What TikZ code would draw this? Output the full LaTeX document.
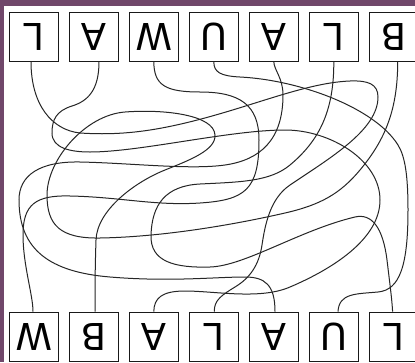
\documentclass[tikz,border=0pt]{standalone}
\usepackage{fontspec}
\setmainfont{DejaVu Sans}
\usepackage{graphicx}

\definecolor{framepurple}{RGB}{112,71,106}
\tikzset{
  letterbox/.style={draw=black!90, line width=0.9pt, minimum width=49pt, minimum height=49pt,
    inner sep=0pt, font=\fontsize{37}{37}\selectfont},
  strand/.style={line width=1pt, black!85}
}
\newcommand{\flipped}[1]{\rotatebox{180}{#1}}

\begin{document}
\begin{tikzpicture}[x=1pt,y=-1pt]
%
	\fill[framepurple] (0,0) rectangle (415,362);
	\fill[white] (4,6) rectangle (415,362);
	\useasboundingbox (0,0) rectangle (415,362);
%
	\node[letterbox] (t1) at (33.8,36.7) {\flipped{L}};
	\node[letterbox] (t2) at (93.8,36.7) {\flipped{A}};
	\node[letterbox] (t3) at (153.8,36.7) {\flipped{W}};
	\node[letterbox] (t4) at (213.8,36.7) {\flipped{U}};
	\node[letterbox] (t5) at (273.8,36.7) {\flipped{A}};
	\node[letterbox] (t6) at (333.8,36.7) {\flipped{L}};
	\node[letterbox] (t7) at (393.8,36.7) {\flipped{B}};
%
	\node[letterbox] (b1) at (33.8,336.5) {\flipped{W}};
	\node[letterbox] (b2) at (93.8,336.5) {\flipped{B}};
	\node[letterbox] (b3) at (153.8,336.5) {\flipped{A}};
	\node[letterbox] (b4) at (213.8,336.5) {\flipped{L}};
	\node[letterbox] (b5) at (273.8,336.5) {\flipped{A}};
	\node[letterbox] (b6) at (333.8,336.5) {\flipped{U}};
	\node[letterbox] (b7) at (393.8,336.5) {\flipped{L}};
%
	\draw[strand] ([xshift=-2.8pt]t1.south) .. controls (31,105) and (52,130) .. (80,133)
		.. controls (110,135) and (137,133) .. (167,127)
		.. controls (240,112.4) and (300,83) .. (350,81)
		.. controls (368,80.3) and (378,84) .. (378,97)
		.. controls (378,130) and (330,158) .. (290,185)
		.. controls (270,198.5) and (265,225) .. (262,245)
		.. controls (259,265) and (250,278) .. (235,287)
		.. controls (222,295) and (214,300) .. ([xshift=0.5pt]b4.north);
	\draw[strand] ([xshift=5.2pt]t2.south) .. controls (99,90) and (88,101) .. (72,106)
		.. controls (56,111) and (52,120) .. (52,133)
		.. controls (52,148) and (70,152) .. (90,152)
		.. controls (140,152) and (230,130) .. (285,130)
		.. controls (330,130) and (380,160) .. (380,200)
		.. controls (380,240) and (330,270) .. (290,287)
		.. controls (260,300) and (215,291) .. (185,291)
		.. controls (162,291) and (154,298) .. (b3.north);
	\draw[strand] (t3.south) .. controls (154,85) and (165,92) .. (200,92)
		.. controls (240,92) and (259,105) .. (259,140)
		.. controls (259,190) and (245,200) .. (200,203)
		.. controls (155,206) and (120,197) .. (70,196)
		.. controls (35,195) and (23,205) .. (23,235)
		.. controls (23,265) and (33,295) .. ([xshift=-0.8pt]b1.north);
	\draw[strand] (t4.south) .. controls (213.8,72) and (220,76) .. (240,77)
		.. controls (300,80) and (375,108) .. (398,145)
		.. controls (405,156.3) and (408,175) .. (408,210)
		.. controls (408,265) and (400,290) .. (378,292)
		.. controls (356,294) and (339,293) .. ([xshift=4.2pt]b6.north);
	\draw[strand] (t5.south) .. controls (274,70) and (283,78) .. (283,95)
		.. controls (283,140) and (260,160) .. (225,165)
		.. controls (190,170) and (130,163) .. (80,162)
		.. controls (40,161.2) and (19,175) .. (19,200)
		.. controls (19,250) and (50,272) .. (110,277)
		.. controls (170,282) and (215,277) .. (245,277)
		.. controls (265,277) and (275,285) .. ([xshift=1.2pt]b5.north);
	\draw[strand] (t6.south) .. controls (334,110) and (320,140) .. (290,165)
		.. controls (270,181.7) and (240,182) .. (200,184)
		.. controls (165,185.8) and (152,205) .. (151,235)
		.. controls (150,262) and (175,268) .. (210,267)
		.. controls (245,266) and (300,230) .. (355,217)
		.. controls (372,213) and (383,228) .. (387,260)
		.. controls (390,285) and (392,300) .. ([xshift=-1.2pt]b7.north);
	\draw[strand] ([xshift=3.9pt]t7.south) .. controls (397.7,110) and (385,140) .. (360,170)
		.. controls (340,194) and (320,205) .. (285,213)
		.. controls (230,225.6) and (160,237) .. (100,238)
		.. controls (60,238.7) and (47,225) .. (47,195)
		.. controls (47,160) and (85,115) .. (125,112)
		.. controls (165,109) and (214,115) .. (215,135)
		.. controls (216,150) and (190,160) .. (165,170)
		.. controls (135,182) and (97,210) .. (96,240)
		.. controls (95,270) and (95,290) .. ([xshift=1.2pt]b2.north);
\end{tikzpicture}
\end{document}
